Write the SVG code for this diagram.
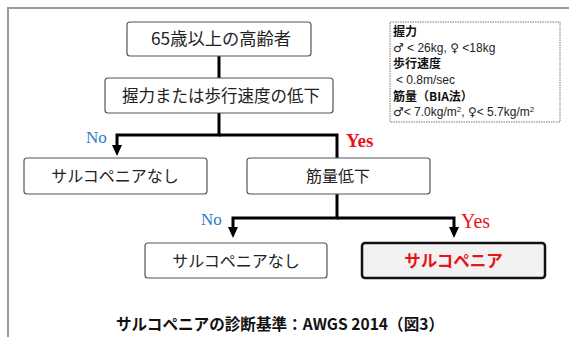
<svg xmlns="http://www.w3.org/2000/svg" width="569" height="337" viewBox="0 0 569 337">
<defs>
<style>
.box{fill:#fff;stroke:#555;stroke-width:1.2}
.jp{font-family:"Noto Sans CJK JP","Noto Sans",sans-serif;fill:#222;text-anchor:middle}
.lbl{font-family:"Liberation Serif",serif}
.no{fill:#2e7cc4;font-size:17px}
.yes{fill:#e8141c}
.conn{fill:none;stroke:#000;stroke-width:3}
.arrow{fill:#000}
.leg{font-family:"Liberation Sans","Noto Sans CJK JP",sans-serif;font-size:12px;fill:#222}
.sym{font-family:"DejaVu Sans",sans-serif;font-size:12px}
.legb{font-family:"Noto Sans CJK JP",sans-serif;font-size:12px;font-weight:bold;fill:#111}
</style>
</defs>
<rect width="569" height="337" fill="#fff"/>
<path d="M8,337 V8 H569" fill="none" stroke="#9a9a9a" stroke-width="2"/>

<g id="connectors">
<path class="conn" d="M219,56 V78"/>
<path class="conn" d="M219,113 V135 H117 V146"/>
<path class="arrow" d="M112,145 L122,145 L117,156 Z"/>
<path class="conn" d="M219,135 H337 V158"/>
<path class="conn" d="M337,194 V218 H233 V228"/>
<path class="conn" d="M337,218 H454 V228"/>
<path class="arrow" d="M228,227 L238,227 L233,238 Z"/>
<path class="arrow" d="M449,227 L459,227 L454,238 Z"/>
</g>

<g id="label-no1"><text class="lbl no" x="86" y="143">No</text></g>
<g id="label-yes1"><text class="lbl yes" x="346" y="147" font-size="19" font-weight="bold">Yes</text></g>
<g id="label-no2"><text class="lbl no" x="201" y="225">No</text></g>
<g id="label-yes2"><text class="lbl yes" x="461" y="228" font-size="20">Yes</text></g>

<g id="n-elderly">
<rect class="box" x="127" y="22" width="184" height="34" rx="3"/>
<text class="jp" x="221" y="45" font-size="17" textLength="140" lengthAdjust="spacingAndGlyphs">65歳以上の高齢者</text>
</g>
<g id="n-decline">
<rect class="box" x="105" y="78" width="228" height="35" rx="3"/>
<text class="jp" x="221" y="101.5" font-size="16.5" textLength="198" lengthAdjust="spacingAndGlyphs">握力または歩行速度の低下</text>
</g>
<g id="n-none1">
<rect class="box" x="24" y="158" width="183" height="36" rx="3"/>
<text class="jp" x="115" y="182" font-size="16">サルコペニアなし</text>
</g>
<g id="n-muscle">
<rect class="box" x="247" y="158" width="183" height="36" rx="3"/>
<text class="jp" x="338" y="182" font-size="16">筋量低下</text>
</g>
<g id="n-none2">
<rect class="box" x="145" y="243" width="182" height="35" rx="3"/>
<text class="jp" x="236" y="266.5" font-size="16">サルコペニアなし</text>
</g>
<g id="n-sarco">
<rect x="362" y="243" width="183" height="35" rx="3" fill="#f2f2f2" stroke="#111" stroke-width="2.5"/>
<text class="jp" x="453.5" y="266.5" font-size="16.5" font-weight="bold" style="fill:#e8141c">サルコペニア</text>
</g>

<g id="legend">
<rect x="390" y="22" width="170" height="100" fill="#fff" stroke="#777" stroke-width="1" stroke-dasharray="1.5,1"/>
<text class="legb" x="393" y="36">握力</text>
<text class="leg" x="393" y="52"><tspan class="sym">♂</tspan> &lt; 26kg,  <tspan class="sym">♀</tspan> &lt;18kg</text>
<text class="legb" x="393" y="68">歩行速度</text>
<text class="leg" x="396" y="84">&lt; 0.8m/sec</text>
<text class="legb" x="393" y="101">筋量（BIA法）</text>
<text class="leg" x="393" y="116"><tspan class="sym">♂</tspan>&lt; 7.0kg/m<tspan font-size="8" dy="-4">2</tspan><tspan dy="4">, </tspan><tspan class="sym">♀</tspan>&lt; 5.7kg/m<tspan font-size="8" dy="-4">2</tspan></text>
</g>

<g id="caption">
<text class="jp" x="280" y="330" font-size="16" font-weight="bold" style="fill:#111" textLength="328" lengthAdjust="spacingAndGlyphs">サルコペニアの診断基準：AWGS 2014（図3）</text>
</g>
</svg>
